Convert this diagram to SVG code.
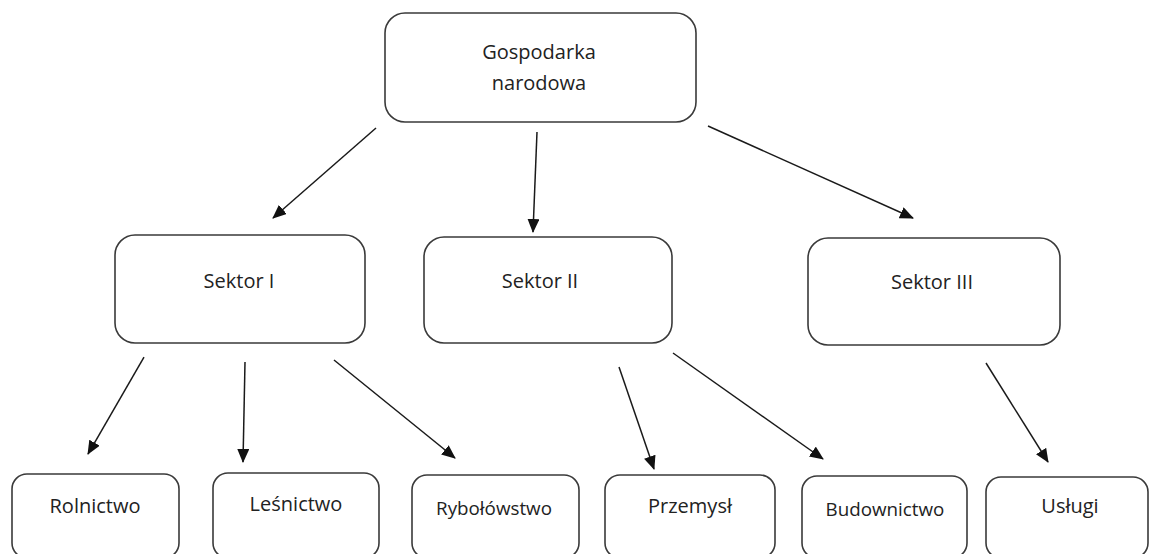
<svg xmlns="http://www.w3.org/2000/svg" width="1150" height="554" viewBox="0 0 1150 554">
<style>
.box{fill:#fff;stroke:#3a3a3a;stroke-width:1.6}
.t{font-family:"Open Sans","Noto Sans",sans-serif;font-size:20px;fill:#222;text-anchor:middle}
.s{font-size:18.8px}
.c{stroke:#1a1a1a;stroke-width:1.5;fill:none;marker-end:url(#ah)}
</style>
<defs>
<marker id="ah" markerUnits="userSpaceOnUse" markerWidth="14" markerHeight="12" viewBox="0 0 14 12" refX="13" refY="6" orient="auto">
<path d="M0,0 L14,6 L0,12 Z" fill="#111"/>
</marker>
</defs>
<rect width="1150" height="554" fill="#fff"/>
<g id="connectors">
<line class="c" x1="376" y1="128" x2="273" y2="218"/>
<line class="c" x1="537" y1="132" x2="533" y2="232"/>
<line class="c" x1="708" y1="126" x2="913" y2="218"/>
<line class="c" x1="144" y1="357" x2="88" y2="454"/>
<line class="c" x1="245" y1="362" x2="243" y2="462"/>
<line class="c" x1="334" y1="360" x2="455" y2="458"/>
<line class="c" x1="619" y1="367" x2="654" y2="469"/>
<line class="c" x1="673" y1="353" x2="823" y2="459"/>
<line class="c" x1="986" y1="363" x2="1048" y2="462"/>
</g>
<g id="gospodarka">
<rect class="box" x="385" y="13" width="311" height="109" rx="20"/>
<text class="t" x="539" y="59">Gospodarka</text>
<text class="t" x="539" y="90">narodowa</text>
</g>
<g id="sektor1">
<rect class="box" x="115" y="235" width="250" height="108" rx="20"/>
<text class="t" x="239" y="288">Sektor I</text>
</g>
<g id="sektor2">
<rect class="box" x="424" y="237" width="248" height="106" rx="20"/>
<text class="t" x="540" y="288">Sektor II</text>
</g>
<g id="sektor3">
<rect class="box" x="808" y="238" width="252" height="107" rx="20"/>
<text class="t" x="932" y="289">Sektor III</text>
</g>
<g id="rolnictwo">
<rect class="box" x="12" y="474" width="167" height="84" rx="15"/>
<text class="t" x="95" y="513">Rolnictwo</text>
</g>
<g id="lesnictwo">
<rect class="box" x="213" y="473" width="166" height="85" rx="15"/>
<text class="t" x="296" y="511">Leśnictwo</text>
</g>
<g id="rybolowstwo">
<rect class="box" x="412" y="475" width="167" height="83" rx="15"/>
<text class="t s" x="494" y="515">Rybołówstwo</text>
</g>
<g id="przemysl">
<rect class="box" x="605" y="475" width="170" height="83" rx="15"/>
<text class="t" x="690" y="513">Przemysł</text>
</g>
<g id="budownictwo">
<rect class="box" x="802" y="476" width="165" height="82" rx="15"/>
<text class="t s" x="885" y="516">Budownictwo</text>
</g>
<g id="uslugi">
<rect class="box" x="986" y="477" width="162" height="81" rx="15"/>
<text class="t" x="1070" y="513">Usługi</text>
</g>
</svg>
